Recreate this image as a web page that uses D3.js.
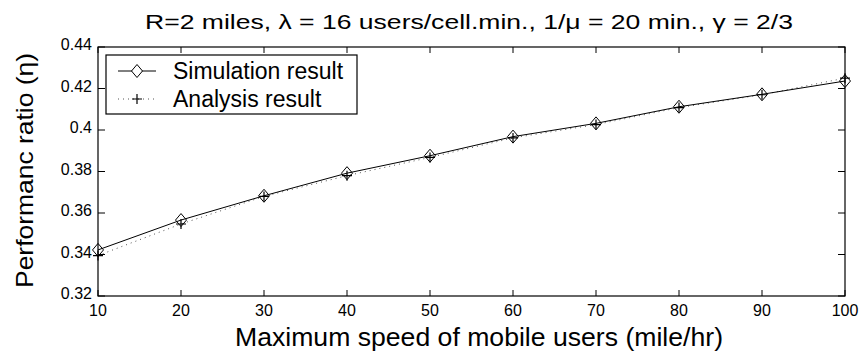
<!DOCTYPE html>
<html>
<head>
<meta charset="utf-8">
<script src="https://cdn.jsdelivr.net/npm/d3@7"></script>
<style>
  body { margin: 0; background: #fff; }
  svg text { font-family: "Liberation Sans", Arial, sans-serif; fill: #000; }
</style>
</head>
<body>
<div id="chart"></div>
<script>
const speeds = [10, 20, 30, 40, 50, 60, 70, 80, 90, 100];
const simulation = [0.3422, 0.3566, 0.3683, 0.3792, 0.3876, 0.3968, 0.4032, 0.4112, 0.4172, 0.4236];
const analysis = [0.3395, 0.3547, 0.3680, 0.3780, 0.3868, 0.3962, 0.4026, 0.4108, 0.4170, 0.4250];
const xTicks = [10, 20, 30, 40, 50, 60, 70, 80, 90, 100];
const yTicks = [0.32, 0.34, 0.36, 0.38, 0.4, 0.42, 0.44];

const width = 861;
const height = 356;
const margin = { top: 47, right: 16, bottom: 60, left: 98 };

const svg = d3.select('#chart')
    .append('svg')
    .attr('width', width)
    .attr('height', height);

const x = d3.scaleLinear()
    .domain([10, 100])
    .range([margin.left, width - margin.right]);

const y = d3.scaleLinear()
    .domain([0.32, 0.44])
    .range([height - margin.bottom, margin.top]);

// box and inward ticks, matlab style
const frame = svg.append('g');
frame.append('rect')
    .attr('x', x(10)).attr('y', y(0.44))
    .attr('width', x(100) - x(10)).attr('height', y(0.32) - y(0.44))
    .attr('fill', 'none').attr('stroke', '#000').attr('stroke-width', 1.2);

const xt = 6, yt = 7;
frame.selectAll('.xtb').data(xTicks).join('line')
    .attr('x1', d => x(d)).attr('x2', d => x(d))
    .attr('y1', y(0.32)).attr('y2', y(0.32) - xt)
    .attr('stroke', '#000');
frame.selectAll('.xtt').data(xTicks).join('line')
    .attr('x1', d => x(d)).attr('x2', d => x(d))
    .attr('y1', y(0.44)).attr('y2', y(0.44) + xt)
    .attr('stroke', '#000');
frame.selectAll('.ytl').data(yTicks).join('line')
    .attr('x1', x(10)).attr('x2', x(10) + yt)
    .attr('y1', d => y(d)).attr('y2', d => y(d))
    .attr('stroke', '#000');
frame.selectAll('.ytr').data(yTicks).join('line')
    .attr('x1', x(100)).attr('x2', x(100) - yt)
    .attr('y1', d => y(d)).attr('y2', d => y(d))
    .attr('stroke', '#000');

// tick labels
svg.append('g').selectAll('text').data(xTicks).join('text')
    .attr('x', d => x(d)).attr('y', y(0.32) + 20)
    .attr('text-anchor', 'middle')
    .style('font-size', '16px')
    .text(d => d);

svg.append('g').selectAll('text').data(yTicks).join('text')
    .attr('x', x(10) - 6).attr('y', d => y(d) - 1)
    .attr('text-anchor', 'end')
    .attr('dominant-baseline', 'middle')
    .style('font-size', '16px')
    .text(d => d3.format('~g')(d));

// lines
const line = d3.line()
    .x((d, i) => x(speeds[i]))
    .y(d => y(d));

svg.append('path')
    .datum(analysis)
    .attr('d', line)
    .attr('fill', 'none')
    .attr('stroke', '#555')
    .attr('stroke-width', 1)
    .attr('stroke-dasharray', '1,4');

svg.append('path')
    .datum(simulation)
    .attr('d', line)
    .attr('fill', 'none')
    .attr('stroke', '#000')
    .attr('stroke-width', 1);

const diamond = (cx, cy) => `M${cx},${cy - 6.5}L${cx + 5.5},${cy}L${cx},${cy + 6.5}L${cx - 5.5},${cy}Z`;
const plus = (cx, cy) => `M${cx - 5},${cy}H${cx + 5}M${cx},${cy - 5}V${cy + 5}`;

svg.append('g').selectAll('path').data(analysis).join('path')
    .attr('d', (d, i) => plus(x(speeds[i]), y(d)))
    .attr('stroke', '#000').attr('stroke-width', 1.2).attr('fill', 'none');

svg.append('g').selectAll('path').data(simulation).join('path')
    .attr('d', (d, i) => diamond(x(speeds[i]), y(d)))
    .attr('stroke', '#000').attr('stroke-width', 1).attr('fill', 'none');

// legend
const lg = svg.append('g');
lg.append('rect')
    .attr('x', 106).attr('y', 55).attr('width', 251).attr('height', 59)
    .attr('fill', '#fff').attr('stroke', '#000').attr('stroke-width', 1.2);
lg.append('line').attr('x1', 118).attr('x2', 156).attr('y1', 71).attr('y2', 71).attr('stroke', '#000');
lg.append('path').attr('d', diamond(137, 71)).attr('stroke', '#000').attr('fill', '#fff');
lg.append('text').attr('x', 173).attr('y', 79).style('font-size', '23px').text('Simulation result');
lg.append('line').attr('x1', 118).attr('x2', 156).attr('y1', 99).attr('y2', 99)
    .attr('stroke', '#555').attr('stroke-dasharray', '1,4');
lg.append('path').attr('d', plus(137, 99)).attr('stroke', '#000').attr('stroke-width', 1.2);
lg.append('text').attr('x', 173).attr('y', 107).style('font-size', '23px').text('Analysis result');

// titles (stretched to the width of the original glyphs)
svg.append('text')
    .attr('x', 145).attr('y', 29)
    .attr('textLength', 648)
    .attr('lengthAdjust', 'spacingAndGlyphs')
    .style('font-size', '21px')
    .text('R=2 miles, λ = 16 users/cell.min., 1/μ = 20 min., γ = 2/3');

svg.append('text')
    .attr('x', 235).attr('y', 346)
    .attr('textLength', 488)
    .attr('lengthAdjust', 'spacingAndGlyphs')
    .style('font-size', '25px')
    .text('Maximum speed of mobile users (mile/hr)');

svg.append('text')
    .attr('transform', `translate(33, 288) rotate(-90)`)
    .attr('textLength', 235)
    .attr('lengthAdjust', 'spacingAndGlyphs')
    .style('font-size', '24px')
    .text('Performanc ratio (η)');
</script>
</body>
</html>
